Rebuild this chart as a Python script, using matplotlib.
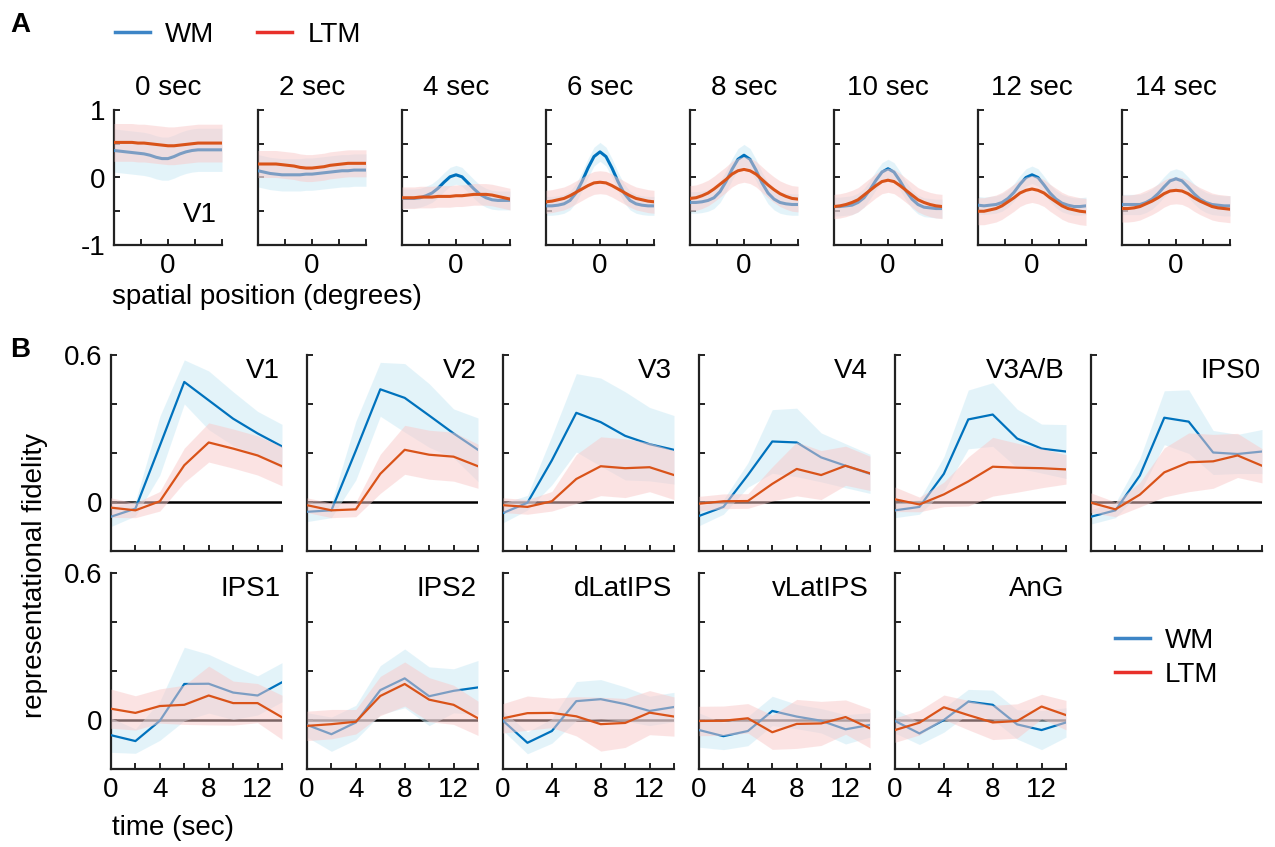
import matplotlib
matplotlib.use('Agg')
import matplotlib.pyplot as plt
from matplotlib.lines import Line2D
import numpy as np

plt.rcParams['font.family'] = ['Liberation Sans', 'DejaVu Sans']
plt.rcParams['font.size'] = 20

# ---------------- data ----------------
# panel A: reconstructed V1 profiles at each time point
times_A = ['0 sec', '2 sec', '4 sec', '6 sec', '8 sec', '10 sec', '12 sec', '14 sec']
pos = np.arange(-180, 181, 20)  # spatial position (deg)

wm_A = [
    [0.40, 0.39, 0.38, 0.37, 0.36, 0.35, 0.33, 0.30, 0.28, 0.28, 0.31, 0.35, 0.38, 0.40, 0.41, 0.41, 0.41, 0.41, 0.41],
    [0.10, 0.08, 0.06, 0.05, 0.04, 0.04, 0.04, 0.04, 0.05, 0.05, 0.06, 0.07, 0.08, 0.09, 0.10, 0.10, 0.11, 0.11, 0.11],
    [-0.31, -0.31, -0.31, -0.30, -0.27, -0.23, -0.16, -0.07, 0.01, 0.04, 0.01, -0.08, -0.17, -0.25, -0.30, -0.33, -0.34, -0.34, -0.34],
    [-0.42, -0.42, -0.41, -0.39, -0.34, -0.23, -0.06, 0.14, 0.31, 0.38, 0.31, 0.14, -0.06, -0.23, -0.34, -0.39, -0.41, -0.42, -0.42],
    [-0.37, -0.37, -0.36, -0.34, -0.30, -0.21, -0.06, 0.12, 0.27, 0.33, 0.27, 0.11, -0.08, -0.23, -0.32, -0.37, -0.39, -0.40, -0.40],
    [-0.43, -0.43, -0.42, -0.41, -0.37, -0.30, -0.18, -0.04, 0.08, 0.13, 0.08, -0.05, -0.20, -0.32, -0.40, -0.44, -0.45, -0.46, -0.46],
    [-0.41, -0.42, -0.41, -0.40, -0.37, -0.31, -0.22, -0.10, 0.00, 0.04, 0.00, -0.11, -0.23, -0.32, -0.38, -0.41, -0.43, -0.43, -0.42],
    [-0.40, -0.40, -0.40, -0.40, -0.37, -0.32, -0.24, -0.14, -0.05, -0.02, -0.05, -0.14, -0.24, -0.32, -0.37, -0.40, -0.41, -0.42, -0.42],
]
ltm_A = [
    [0.52, 0.52, 0.52, 0.52, 0.51, 0.51, 0.50, 0.49, 0.48, 0.47, 0.47, 0.48, 0.49, 0.50, 0.51, 0.51, 0.51, 0.51, 0.51],
    [0.20, 0.20, 0.20, 0.20, 0.19, 0.18, 0.17, 0.15, 0.14, 0.14, 0.15, 0.16, 0.18, 0.19, 0.20, 0.21, 0.21, 0.21, 0.21],
    [-0.30, -0.30, -0.30, -0.29, -0.29, -0.29, -0.28, -0.28, -0.28, -0.27, -0.27, -0.26, -0.25, -0.25, -0.25, -0.26, -0.28, -0.30, -0.32],
    [-0.36, -0.35, -0.33, -0.31, -0.27, -0.22, -0.17, -0.12, -0.08, -0.07, -0.08, -0.12, -0.17, -0.22, -0.27, -0.31, -0.33, -0.35, -0.36],
    [-0.31, -0.30, -0.27, -0.23, -0.17, -0.10, -0.03, 0.05, 0.10, 0.12, 0.10, 0.05, -0.03, -0.11, -0.18, -0.24, -0.28, -0.31, -0.32],
    [-0.43, -0.42, -0.40, -0.37, -0.33, -0.26, -0.19, -0.12, -0.06, -0.04, -0.06, -0.12, -0.19, -0.26, -0.33, -0.37, -0.40, -0.42, -0.43],
    [-0.50, -0.50, -0.48, -0.46, -0.42, -0.36, -0.30, -0.23, -0.19, -0.17, -0.19, -0.23, -0.30, -0.36, -0.42, -0.46, -0.48, -0.50, -0.51],
    [-0.46, -0.46, -0.45, -0.43, -0.39, -0.35, -0.30, -0.24, -0.20, -0.19, -0.20, -0.24, -0.30, -0.35, -0.39, -0.43, -0.45, -0.46, -0.47],
]
wm_A_sem = [0.32, 0.24, 0.14, 0.14, 0.16, 0.14, 0.13, 0.15]
ltm_A_sem = [0.28, 0.20, 0.16, 0.17, 0.19, 0.18, 0.20, 0.20]

# panel B: representational fidelity over time per ROI
t = [0, 2, 4, 6, 8, 10, 12, 14]
rois = ['V1', 'V2', 'V3', 'V4', 'V3A/B', 'IPS0', 'IPS1', 'IPS2', 'dLatIPS', 'vLatIPS', 'AnG']
wm_B = [
    [-0.06, -0.027, 0.23, 0.49, 0.415, 0.34, 0.28, 0.227],
    [-0.04, -0.034, 0.21, 0.46, 0.425, 0.353, 0.28, 0.213],
    [-0.045, -0.003, 0.17, 0.364, 0.326, 0.27, 0.236, 0.213],
    [-0.057, -0.02, 0.11, 0.247, 0.243, 0.182, 0.148, 0.115],
    [-0.034, -0.02, 0.115, 0.337, 0.357, 0.259, 0.218, 0.206],
    [-0.06, -0.034, 0.108, 0.344, 0.328, 0.202, 0.196, 0.206],
    [-0.062, -0.086, -0.003, 0.147, 0.148, 0.112, 0.10, 0.154],
    [-0.02, -0.058, -0.01, 0.122, 0.17, 0.097, 0.119, 0.133],
    [-0.003, -0.093, -0.045, 0.077, 0.085, 0.065, 0.037, 0.053],
    [-0.041, -0.066, -0.045, 0.037, 0.014, -0.003, -0.038, -0.02],
    [-0.004, -0.055, 0.0, 0.075, 0.062, -0.018, -0.041, -0.01],
]
wm_B_sem = [
    [0.04, 0.03, 0.12, 0.09, 0.12, 0.11, 0.09, 0.09],
    [0.04, 0.03, 0.12, 0.11, 0.14, 0.13, 0.10, 0.13],
    [0.04, 0.03, 0.10, 0.16, 0.18, 0.18, 0.15, 0.14],
    [0.04, 0.03, 0.05, 0.13, 0.14, 0.10, 0.09, 0.08],
    [0.03, 0.03, 0.07, 0.12, 0.13, 0.12, 0.10, 0.11],
    [0.03, 0.03, 0.07, 0.11, 0.13, 0.09, 0.08, 0.09],
    [0.07, 0.05, 0.08, 0.15, 0.12, 0.11, 0.08, 0.08],
    [0.05, 0.07, 0.07, 0.10, 0.12, 0.12, 0.09, 0.11],
    [0.04, 0.045, 0.05, 0.08, 0.08, 0.07, 0.06, 0.06],
    [0.07, 0.055, 0.06, 0.06, 0.05, 0.05, 0.06, 0.05],
    [0.05, 0.045, 0.05, 0.05, 0.06, 0.06, 0.08, 0.06],
]
ltm_B = [
    [-0.023, -0.034, 0.003, 0.15, 0.243, 0.218, 0.19, 0.146],
    [-0.013, -0.034, -0.03, 0.115, 0.213, 0.193, 0.185, 0.146],
    [-0.013, -0.02, 0.003, 0.094, 0.146, 0.138, 0.142, 0.11],
    [-0.007, 0.003, 0.004, 0.074, 0.135, 0.11, 0.148, 0.117],
    [0.011, -0.01, 0.031, 0.084, 0.144, 0.14, 0.138, 0.133],
    [-0.003, -0.03, 0.03, 0.121, 0.162, 0.166, 0.19, 0.148],
    [0.046, 0.029, 0.057, 0.062, 0.10, 0.069, 0.069, 0.011],
    [-0.024, -0.017, -0.007, 0.098, 0.147, 0.083, 0.062, 0.007],
    [0.007, 0.028, 0.029, 0.015, -0.017, -0.012, 0.03, 0.014],
    [-0.004, -0.003, 0.007, -0.05, -0.016, -0.014, 0.012, -0.034],
    [-0.041, -0.011, 0.052, 0.02, -0.01, -0.004, 0.055, 0.02],
]
ltm_B_sem = [
    [0.04, 0.03, 0.04, 0.07, 0.08, 0.08, 0.08, 0.08],
    [0.03, 0.03, 0.03, 0.08, 0.10, 0.10, 0.10, 0.09],
    [0.03, 0.03, 0.04, 0.10, 0.12, 0.12, 0.10, 0.10],
    [0.03, 0.03, 0.03, 0.07, 0.11, 0.10, 0.08, 0.07],
    [0.05, 0.03, 0.05, 0.10, 0.12, 0.10, 0.08, 0.06],
    [0.04, 0.03, 0.05, 0.10, 0.12, 0.11, 0.09, 0.07],
    [0.08, 0.07, 0.07, 0.08, 0.12, 0.09, 0.08, 0.09],
    [0.06, 0.06, 0.05, 0.08, 0.09, 0.09, 0.08, 0.07],
    [0.06, 0.07, 0.06, 0.08, 0.11, 0.10, 0.09, 0.08],
    [0.06, 0.06, 0.06, 0.07, 0.10, 0.09, 0.07, 0.08],
    [0.05, 0.05, 0.05, 0.06, 0.07, 0.07, 0.05, 0.06],
]

# ---------------- style ----------------
WM_C = '#0072BD'
LTM_C = '#D95319'
WM_FILL = '#c9e9f5'
LTM_FILL = '#f9c9c9'
SPINE_C = '#222222'

W, H = 1275, 847
fig = plt.figure(figsize=(W / 100, H / 100), dpi=100)


def add_ax(left, top, width, height):
    return fig.add_axes([left / W, 1 - (top + height) / H, width / W, height / H])


def style(ax):
    for s in ['top', 'right']:
        ax.spines[s].set_visible(False)
    for s in ['left', 'bottom']:
        ax.spines[s].set_color(SPINE_C)
        ax.spines[s].set_linewidth(1.6)
    ax.tick_params(direction='in', length=4, width=1.4, color=SPINE_C, pad=6)


def draw(ax, x, wm, wsem, ltm, lsem, lw):
    wm = np.array(wm)
    ltm = np.array(ltm)
    ax.fill_between(x, wm - wsem, wm + wsem, color=WM_FILL, alpha=0.5, lw=0, zorder=2)
    ax.plot(x, wm, color=WM_C, lw=lw, zorder=3)
    ax.fill_between(x, ltm - lsem, ltm + lsem, color=LTM_FILL, alpha=0.5, lw=0, zorder=4)
    ax.plot(x, ltm, color=LTM_C, lw=lw, zorder=5)


# ---------------- panel A ----------------
for i in range(8):
    ax = add_ax(114 + 144 * i, 110, 108, 135)
    draw(ax, pos, wm_A[i], wm_A_sem[i], ltm_A[i], ltm_A_sem[i], 2.2)
    ax.set_xlim(-180, 180)
    ax.set_ylim(-1, 1)
    style(ax)
    ax.set_xticks([-180, -90, 0, 90, 180])
    ax.set_xticklabels(['', '', '0', '', ''])
    ax.set_yticks([-1, -0.5, 0, 0.5, 1])
    if i == 0:
        ax.set_yticklabels(['-1', '', '0', '', '1'])
        ax.text(0.95, 0.22, 'V1', transform=ax.transAxes, ha='right', va='center')
    else:
        ax.set_yticklabels([])
    ax.set_title(times_A[i], fontsize=20, pad=11)

fig.text(112 / W, 1 - 297 / H, 'spatial position (degrees)', ha='left', va='center')

handles = [Line2D([], [], color='#3D85C6', lw=2.5), Line2D([], [], color='#E8302A', lw=2.5)]
fig.legend(handles, ['WM', 'LTM'], loc='center left', bbox_to_anchor=(115 / W, 1 - 35 / H),
           ncol=2, frameon=False, borderpad=0, borderaxespad=0, handlelength=1.26,
           handletextpad=0.54, columnspacing=1.55)

# ---------------- panel B ----------------
for k, name in enumerate(rois):
    row, col = divmod(k, 6)
    top = 355 if row == 0 else 573
    ax = add_ax(111 + 196 * col, top, 171, 196)
    ax.axhline(0, color='black', lw=1.8, zorder=1)
    draw(ax, t, wm_B[k], np.array(wm_B_sem[k]), ltm_B[k], np.array(ltm_B_sem[k]), 1.6)
    ax.set_xlim(0, 14)
    ax.set_ylim(-0.2, 0.6)
    style(ax)
    ax.set_xticks(t)
    if row == 1:
        ax.set_xticklabels(['0', '', '4', '', '8', '', '12', ''])
    else:
        ax.set_xticklabels([])
    ax.set_yticks([0, 0.2, 0.4, 0.6])
    if col == 0:
        ax.set_yticklabels(['0', '', '', '0.6'])
    else:
        ax.set_yticklabels([])
    ax.text(0.99, 0.985, name, transform=ax.transAxes, ha='right', va='top', fontsize=20)

fig.text(35 / W, 1 - 575 / H, 'representational fidelity', rotation=90, ha='center', va='center')
fig.text(112 / W, 1 - 828 / H, 'time (sec)', ha='left', va='center')

fig.legend(handles, ['WM', 'LTM'], loc='center left', bbox_to_anchor=(1115 / W, 1 - 658 / H),
           frameon=False, borderpad=0, borderaxespad=0, handlelength=1.26,
           handletextpad=0.54, labelspacing=0.3)

fig.text(10 / W, 1 - 25 / H, 'A', fontsize=20, fontweight='bold', ha='left', va='center')
fig.text(10 / W, 1 - 350 / H, 'B', fontsize=20, fontweight='bold', ha='left', va='center')

fig.savefig('out.png', dpi=100)
